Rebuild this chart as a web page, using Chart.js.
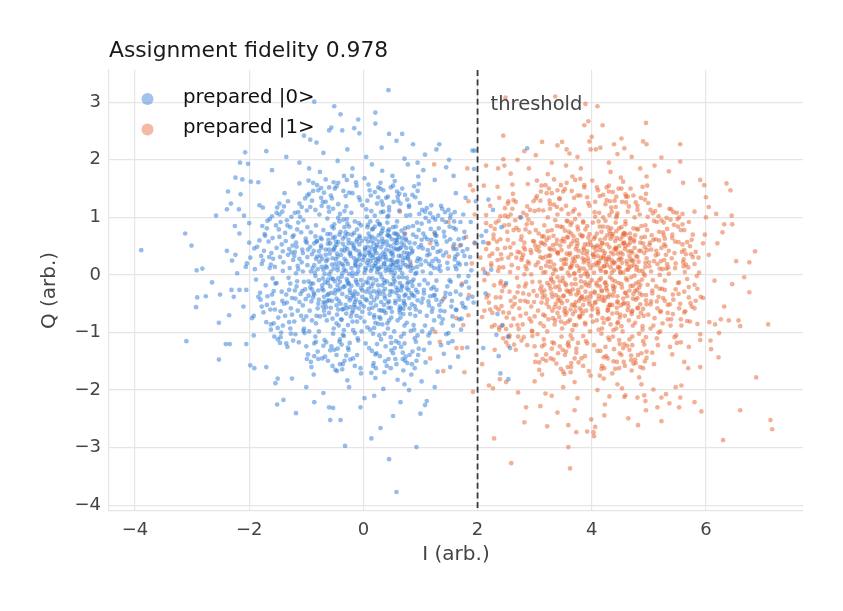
<!DOCTYPE html>
<html><head><meta charset="utf-8">
<script src="https://cdn.jsdelivr.net/npm/chart.js@4/dist/chart.umd.min.js"></script>
<style>html,body{margin:0;padding:0;background:#fff;}canvas{display:block;}</style>
</head><body>
<canvas id="c" width="843" height="611" style="width:843px;height:611px"></canvas>
<script>
const titleText = "Assignment fidelity 0.978";
const seriesNames = ["prepared |0>", "prepared |1>"];
const xAxisLabel = "I (arb.)";
const yAxisLabel = "Q (arb.)";
const thresholdLabel = "threshold";
const xTicks = [-4, -2, 0, 2, 4, 6];
const yTicks = [-4, -3, -2, -1, 0, 1, 2, 3];
const thresholdI = 2;

// prepared |0> : [I, Q] points read/
const prepared0 = [
[0.12,0.34],[-0.45,0.08],[0.67,-0.21],[-0.23,-0.56],[0.31,0.72],[-0.78,0.41],[0.05,-0.12],[0.54,0.46],[-0.36,0.63],[0.82,0.15],
[-0.61,-0.33],[0.19,-0.74],[-0.08,0.27],[0.43,-0.48],[-0.92,0.06],[0.27,0.11],[-0.15,-0.29],[0.71,0.52],[-0.52,0.81],[0.08,0.58],
[0.36,-0.09],[-0.27,0.19],[0.58,0.23],[-0.69,-0.62],[0.14,-0.38],[-0.41,-0.12],[0.89,-0.37],[-0.04,0.86],[0.48,0.05],[-0.83,0.28],
[0.23,0.49],[-0.58,0.55],[0.64,-0.66],[-0.19,-0.81],[0.02,0.04],[0.39,0.31],[-0.72,-0.18],[0.16,-0.57],[-0.33,0.42],[0.76,-0.05],
[-0.11,0.62],[0.51,-0.29],[-0.47,-0.41],[0.29,0.88],[-0.88,-0.39],[0.62,0.33],[-0.25,0.02],[0.07,-0.91],[0.94,0.24],[-0.64,0.13],
[0.18,0.16],[-0.39,-0.77],[0.46,0.67],[-0.06,-0.47],[0.73,-0.52],[-0.54,0.29],[0.33,-0.18],[-0.17,0.51],[0.57,0.84],[-0.96,-0.11],
[0.09,-0.24],[-0.31,0.74],[0.68,0.03],[-0.74,0.47],[0.26,-0.85],[-0.13,-0.09],[0.41,0.58],[-0.49,-0.26],[0.85,0.39],[-0.22,0.33],
[0.55,-0.11],[-0.67,-0.49],[0.11,0.41],[-0.02,-0.64],[0.37,0.19],[-0.86,0.17],[0.63,-0.43],[-0.29,-0.38],[0.21,0.63],[-0.44,0.57],
[0.78,0.28],[-0.09,0.13],[0.32,-0.62],[-0.57,0.06],[0.49,0.37],[-0.35,-0.59],[0.15,0.79],[-0.79,-0.27],[0.66,-0.27],[0.03,0.47],
[-0.21,-0.19],[0.44,0.09],[-0.63,0.71],[0.24,-0.31],[-0.98,0.31],[0.59,0.61],[-0.12,-0.71],[0.86,-0.19],[-0.42,0.21],[0.13,0.07],
[0.34,0.54],[-0.53,-0.07],[0.74,-0.34],[-0.28,0.89],[0.04,-0.42],[-0.71,-0.55],[0.52,0.17],[-0.05,0.36],[0.28,-0.73],[-0.38,-0.03],
[0.61,0.44],[-0.81,0.59],[0.17,-0.15],[-0.46,0.37],[0.91,0.02],[-0.16,-0.52],[0.42,-0.84],[-0.62,-0.14],[0.06,0.21],[0.72,0.71],
[-0.34,0.09],[0.22,0.27],[-0.76,-0.72],[0.47,-0.16],[-0.07,0.68],[0.65,-0.58],[-0.51,0.45],[0.35,0.39],[-0.24,-0.44],[0.81,0.56],
[-0.93,-0.22],[0.1,-0.06],[0.57,0.12],[-0.43,-0.88],[0.25,0.93],[-0.65,0.24],[0.38,-0.41],[-0.14,0.18],[0.69,0.26],[-0.3,-0.67],
[0.01,0.31],[-0.56,-0.31],[0.48,-0.57],[-0.2,0.55],[0.79,-0.12],[-0.87,0.42],[0.2,0.45],[-0.37,0.03],[0.6,-0.79],[-0.1,-0.33],
[0.3,0.02],[-0.7,0.09],[0.45,0.79],[-0.26,-0.14],[0.13,-0.49],[-0.5,0.66],[0.77,0.38],[-0.04,-0.23],[0.53,-0.01],[-0.8,-0.58],
[0.26,0.29],[-0.32,0.48],[0.66,0.48],[-0.6,-0.44],[0.11,0.66],[-0.18,-0.96],[0.87,0.12],[-0.45,0.14],[0.35,-0.29],[-0.03,0.59],
[0.5,0.26],[-0.66,0.35],[0.19,-0.92],[-0.12,0.25],[0.71,-0.45],[-0.4,-0.5],[0.04,0.12],[-0.84,-0.02],[0.42,0.69],[-0.27,0.71],
[0.64,-0.14],[-0.08,-0.58],[0.31,0.14],[-0.55,0.18],[0.92,-0.26],[-0.19,0.04],[0.17,0.35],[-0.73,0.62],[0.46,-0.35],[-0.35,-0.21],
[0.07,0.83],[-0.47,0.52],[0.58,-0.22],[-0.01,-0.17],[0.39,-0.66],[-0.62,-0.08],[0.24,0.52],[-0.91,-0.46],[0.75,0.6],[-0.23,0.39],
[1.12,0.34],[-1.24,0.51],[0.45,1.18],[-0.38,-1.21],[1.35,-0.62],[-1.05,-0.78],[0.82,1.04],[-0.71,1.27],[1.48,0.11],[-1.52,-0.14],
[0.23,-1.36],[-0.19,1.42],[1.21,-0.94],[-1.33,0.86],[0.97,-1.28],[-0.86,-1.19],[1.63,0.45],[-1.61,0.38],[0.58,-1.55],[-0.52,1.61],
[1.05,0.72],[-1.08,0.22],[0.14,1.11],[-0.09,-1.14],[1.27,0.28],[-1.19,-0.41],[0.66,-1.07],[-0.63,0.98],[1.44,-0.31],[-1.41,0.07],
[0.35,1.47],[-0.33,-1.49],[1.72,-0.18],[-1.69,-0.52],[0.91,1.35],[-0.95,1.41],[1.16,-1.18],[-1.27,-1.02],[0.02,1.68],[-0.04,-1.71],
[1.58,0.82],[-1.47,1.05],[0.74,-1.42],[-0.79,-1.46],[1.31,1.03],[-1.12,1.24],[1.83,-0.41],[-1.78,0.19],[0.51,1.72],[-0.46,-1.67],
[1.02,-0.48],[-1.01,0.63],[0.28,-1.05],[-0.21,1.08],[1.18,0.03],[-1.16,-0.11],[0.79,0.83],[-0.83,-0.84],[1.37,-0.84],[-1.36,0.59],
[0.61,1.29],[-0.58,-1.31],[1.66,0.21],[-1.57,-0.84],[0.17,-1.58],[-0.12,1.55],[1.49,-1.01],[-1.39,1.19],[0.97,1.58],[-0.91,-1.6],
[1.23,-0.21],[-1.21,0.33],[0.39,-1.24],[-0.44,1.23],[1.08,1.1],[-1.03,-1.01],[1.76,0.64],[-1.81,-0.31],[0.84,-1.73],[-0.76,1.79],
[1.29,0.53],[-1.3,-0.26],[0.07,1.29],[-0.26,-1.3],[1.54,-0.55],[-1.48,0.79],[0.48,1.52],[-0.41,-1.55],[1.89,0.08],[-1.86,0.49],
[1.11,-0.71],[-1.14,0.91],[0.63,1.12],[-0.68,-1.13],[1.42,0.67],[-1.45,-0.63],[0.29,-1.41],[-0.31,1.37],[1.68,-0.77],[-1.64,0.97],
[1.01,0.18],[-1.02,-0.25],[0.2,1.03],[-0.15,-1.01],[1.19,0.61],[-1.22,0.69],[0.72,-1.19],[-0.65,-1.17],[1.6,1.09],[-1.56,-1.07],
[0.95,-1.05],[-0.99,1.12],[1.34,0.16],[-1.34,-0.48],[0.52,-1.36],[-0.55,1.33],[1.77,0.33],[-1.73,0.71],[0.33,1.81],[-0.28,-1.83],
[1.15,0.93],[-1.18,0.03],[0.04,-1.19],[-0.02,1.21],[1.28,-0.43],[-1.26,1.01],[0.86,-1.33],[-0.88,1.46],[1.52,0.99],[-1.5,-0.92],
[1.06,-0.26],[-1.07,0.44],[0.42,1.01],[-0.36,-1.04],[1.45,0.39],[-1.43,-0.29],[0.69,-1.46],[-0.74,1.51],[1.85,-0.22],[-1.88,-0.08],
[1.36,-1.22],[-1.32,1.28],[0.13,1.38],[-0.11,-1.39],[1.63,-0.61],[-1.59,0.64],[0.55,1.63],[-0.49,-1.65],[1.09,-1.52],[-1.12,1.59],
[1.24,0.12],[-1.25,-0.69],[0.8,1.21],[-0.84,1.13],[1.71,0.52],[-1.68,-0.37],[0.37,-1.69],[-0.34,1.72],[1.56,-1.15],[-1.51,1.17],
[0.88,-0.87],[-0.92,0.74],[1.04,0.46],[-1.06,-0.53],[0.24,1.24],[-0.27,-1.26],[1.38,1.15],[-1.35,-1.19],[1.95,0.56],[-1.92,-0.71],
[1.17,-0.37],[-1.15,0.16],[0.49,-1.18],[-0.53,1.15],[1.47,0.21],[-1.46,0.31],[0.93,-1.49],[-0.97,-1.38],[1.62,0.79],[-1.69,0.81],
[1.32,0.81],[-1.28,-0.93],[0.73,1.39],[-0.69,1.43],[1.79,-0.57],[-1.75,-0.65],[0.21,-1.79],[-0.19,1.85],[1.41,-1.37],[-1.38,1.42],
[1.13,0.43],[-1.1,-0.33],[0.31,-1.12],[-0.33,1.11],[1.53,-0.12],[-1.55,0.14],[0.89,1.54],[-0.92,-1.51],[1.87,0.31],[-1.84,-0.38],
[-3.89,0.43],[-3.10,-1.15],[-2.53,-1.47],[-2.93,-0.56],[-2.91,-0.39],[-2.76,-0.37],[-2.65,-0.13],[-2.53,-0.83],[-2.41,-1.20],[-2.34,-1.20],
[-2.05,-1.20],[-1.98,-1.57],[-1.91,-1.62],[-1.51,-2.25],[-1.18,-2.40],[-0.58,-2.52],[-0.40,-2.52],[-0.32,-2.97],[-0.60,-2.30],[-0.53,-2.31],
[-0.86,-2.21],[-1.54,-1.88],[-1.50,-1.80],[0.14,-2.84],[0.45,-3.20],[0.58,-3.77],[0.93,-2.99],[0.30,-2.66],[0.52,-2.45],[1.0,-2.41],
[-1.40,-2.17],[1.08,-2.26],[1.11,-2.19],[0.65,-2.21],[0.02,-2.14],[0.19,-2.10],[0.44,3.21],[-0.86,3.01],[-0.51,2.93],[-0.40,2.79],
[0.21,2.82],[0.21,2.63],[-0.09,2.70],[-0.60,2.51],[-0.56,2.56],[-0.37,2.51],[-0.16,2.55],[-0.07,2.46],[-1.04,2.42],[-0.93,2.35],
[-0.82,2.30],[0.45,2.45],[0.58,2.33],[0.68,2.45],[0.87,2.27],[1.33,2.27],[1.28,2.18],[1.91,2.16],[-2.07,2.13],[-2.16,1.95],
[-2.02,1.93],[-2.24,1.69],[-2.12,1.66],[-2.37,1.45],[-2.32,1.24],[-2.39,1.14],[-2.58,1.03],[-3.12,0.72],[-3.01,0.51],[-2.92,0.08],
[-2.82,0.11],[-2.51,-0.34],[-2.18,1.14],[-2.09,1.03],[-1.97,1.62],[-1.84,1.61],[-1.82,1.21],[-1.76,1.17],[-2.24,0.35],[-2.30,0.25],
[-2.21,0.03],[-2.04,0.20],[-2.06,0.14],[-2.39,0.42],[-2.17,0.72],[-2.0,0.56],[-1.91,0.46],[-2.31,-0.26],[-2.17,-0.26],[-2.05,-0.26],
[-2.27,-0.38],
[2.87,2.20],[2.19,1.31],[2.27,1.13],[2.76,1.0],[2.42,0.83],[2.15,0.76],[2.07,0.68],[2.10,0.57],[2.13,0.04],[2.24,0.09],
[1.95,2.16],[1.94,1.84],[2.14,-0.32],[2.50,-0.14],[2.35,-0.68],[2.43,-0.88],[2.33,-1.04],[2.53,-1.07],[2.57,-1.27],[2.10,-1.27],
[2.40,-1.71],[2.54,-1.81],[2.37,-1.41],
[1.62,1.42],[1.75,1.05],[1.88,0.92],[1.71,-0.95],[1.82,-1.26],[1.93,-0.48],[1.66,-1.42],[1.97,1.28],[1.58,1.72],[1.45,1.87],
[1.25,1.65],[1.05,1.82],[0.78,1.92],[1.3,-1.68],[1.02,-1.85],[0.72,-1.9],[1.52,-1.6],[1.79,1.34],
[-1.35,2.05],[-1.12,1.95],[-0.7,2.12],[-0.28,2.18],[0.05,2.05],[0.32,2.21],[0.72,2.02],[1.08,2.09],[-1.6,1.82],[-0.45,1.98],
[0.15,1.92],[-0.95,1.85],[1.5,2.0],[-1.7,2.15],[0.95,1.95],
[-1.0,-1.95],[-0.7,-2.05],[-0.25,-1.95],[0.35,-1.98],[0.8,-2.0],[-1.25,-1.8],[1.25,-1.95],[-0.05,-2.3],[0.6,-1.82],[-1.7,-1.6],
[-2.0,0.9],[-1.95,-0.75],[-2.1,-0.55],[-1.98,0.3],[-2.25,0.85],[-2.35,-0.7],[-1.92,-1.05],[-2.15,1.4],
[-0.14,0.44],[0.53,0.21],[-0.71,-0.06],[0.36,-0.52],[-0.29,0.97],[0.93,0.66],[-1.06,0.38],[0.17,-1.02],[0.72,-0.88],[-0.52,-0.93],
[0.44,1.03],[-0.83,0.86],[1.07,-0.09],[-0.05,0.18],[0.27,-0.27],[-0.37,-0.33],[0.64,0.09],[-0.62,0.54],[0.09,0.72],[1.22,0.47],
[-0.94,-0.62],[0.38,0.36],[-0.17,-0.37],[0.81,-0.58],[-0.48,0.27],[0.02,-0.81],[0.59,0.93],[-1.17,-0.2],[0.24,0.05],[-0.26,0.61],
[0.96,0.29],[-0.69,-0.38],[0.13,0.24],[0.49,-0.74],[-0.41,1.06],[1.14,-0.46],[-0.89,0.12],[0.31,0.48],[-0.12,-0.13],[0.68,0.64],
[-0.57,-0.57],[0.06,1.01],[0.84,-0.32],[-1.01,0.58],[0.41,-0.11],[-0.22,-0.72],[0.55,0.55],[-0.77,0.23],[0.19,-0.44],[1.31,0.11],
[-0.33,0.28],[0.74,0.17],[-0.64,-0.79],[0.12,0.93],[0.47,0.26],[-0.45,-0.18],[0.91,-0.71],[-1.12,-0.47],[0.28,-0.61],[-0.08,0.41],
[0.62,-0.37],[-0.84,0.67],[0.34,0.81],[-0.19,-0.02],[1.01,0.52],[-0.53,0.43],[0.05,-0.29],[0.77,-0.15],[-0.72,-0.24],[0.22,0.15],
[-0.31,-0.52],[0.57,0.72],[-0.98,0.17],[0.43,-0.93],[-0.11,0.79],[0.86,0.42],[-0.6,-0.66],[0.16,0.3],[1.19,-0.24],[-0.4,0.75],
[0.69,-0.04],[-0.75,0.33],[0.26,-0.18],[-0.03,-0.98],[0.51,0.39],[-0.5,-0.11],[0.95,-0.44],[-1.23,0.26],[0.33,0.63],[-0.16,0.29],
[0.73,0.81],[-0.87,-0.31],[0.1,-0.59],[0.46,0.14],[-0.36,0.54],[1.09,0.24],[-0.68,0.02],[0.2,0.84],[-0.24,-0.26],[0.63,-0.61],
[-0.55,0.84],[0.37,-0.36],[-0.07,0.53],[0.83,0.07],[-0.93,0.49],[0.14,-0.2],[0.56,-0.49],[-0.43,-0.45],[1.25,0.74],[-0.15,0.93],
[0.4,0.44],[-0.79,-0.5],[0.66,0.33],[-0.27,-0.87],[0.03,0.35],[0.89,-0.95],[-1.04,-0.12],[0.3,-0.76],[-0.35,0.16],[0.75,0.47],
[-0.61,0.61],[0.18,0.55],[0.52,-0.16],[-0.46,-0.69],[1.16,0.36],[-0.13,-0.43],[0.6,0.7],[-0.85,0.04],[0.25,0.23],[-0.02,-0.38],
[0.79,-0.26],[-0.66,0.44],[0.35,1.1],[-0.21,0.12],[0.98,-0.17],[-0.44,-0.27],[0.11,-0.67],[0.67,0.56],[-1.09,0.74],[0.45,-0.46],
[-0.09,0.06],[0.7,-0.68],[-0.58,-0.2],[0.23,0.38],[-0.34,-0.96],[0.87,0.85],[-0.73,0.14],[0.15,0.11],[0.54,-0.98],[-0.25,0.84],
[1.04,0.06],[-0.48,0.58],[0.32,-0.04],[-0.82,-0.71],[0.61,0.24],[-0.18,-0.62],[0.42,0.91],[-0.97,0.44],[0.08,-0.14],[0.85,-0.51],
[-0.39,0.35],[0.5,0.62],[-0.63,-0.35],[0.21,-0.83],[1.2,-0.64],[-0.06,0.65],[0.71,0.39],[-0.9,-0.25],[0.29,0.27],[-0.29,-0.07],
[0.58,-0.31],[-0.7,0.78],[0.07,0.49],[0.94,0.14],[-0.47,-0.84],[0.38,-0.24],[-0.14,0.22],[0.76,-0.83],[-1.14,0.1],[0.48,0.5],
[-0.32,0.67],[0.64,-0.55],[-0.52,0.11],[0.16,-0.06],[1.12,0.62],[-0.78,-0.43],[0.27,0.69],[-0.04,-0.51],[0.82,0.23],[-0.59,0.37],
[0.36,0.2],[-0.23,-0.31],[0.9,0.55],[-0.86,0.55],[0.12,-0.95],[0.55,0.04],[-0.42,0.93],[1.06,-0.32],[-0.65,-0.56],[0.2,0.42],
[-0.1,-0.17],[0.68,-0.19],[-0.96,-0.36],[0.43,0.76],[-0.28,0.45],[0.8,-0.4],[-0.55,-0.45],[0.04,0.63],[1.28,-0.1],[-0.37,-0.6],
[0.58,0.45],[-0.75,0.65],[0.24,-0.39],[-0.12,0.02],[0.97,0.78],[-0.49,0.19],[0.33,-0.86],[-1.0,-0.72],[0.65,0.13],[-0.2,0.7],
[0.44,-0.57],[-0.67,-0.13],[0.1,0.17],[0.88,-0.08],[-0.38,-0.78],[0.52,0.83],[-0.81,0.32],[0.18,-0.28],[1.15,0.19],[-0.3,0.24],
[0.71,-0.49],[-0.58,0.71],[0.3,0.34],[-0.05,-0.74],[0.62,0.66],[-0.92,-0.15],[0.39,0.07],[-0.17,0.47],[0.92,-0.6],[-0.44,-0.06],
[0.14,0.59],[0.78,0.31],[-0.7,-0.47],[0.47,-0.28],[-0.26,-0.16],[1.02,0.89],[-0.63,0.27],[0.22,-0.53],[-0.01,0.26],[0.6,0.17],
[-0.33,0.83],[0.86,-0.35],[-1.07,-0.28],[0.35,0.58],[-0.15,-0.56],[0.53,-0.07],[-0.5,0.49],[0.08,0.87],[1.23,-0.36],[-0.8,0.1],
[1.35,0.42],[-1.29,0.12],[0.55,-1.27],[-0.61,1.18],[1.52,-0.33],[-1.42,-0.45],[0.26,1.52],[-0.18,-1.45],[1.19,1.21],[-1.23,-1.14],
[1.61,0.15],[-1.58,0.28],[0.81,-1.39],[-0.9,1.29],[1.39,-0.77],[-1.34,0.95],[0.43,1.36],[-0.47,-1.39],[1.73,-0.49],[-1.71,-0.18],
[1.26,0.69],[-1.18,0.56],[0.38,-1.5],[-0.35,1.46],[1.46,0.58],[-1.49,-0.74],[0.99,1.25],[-1.0,-1.24],[1.8,0.19],[-1.66,0.58],
[1.08,-0.88],[-1.16,0.79],[0.15,-1.32],[-0.08,1.35],[1.57,-0.88],[-1.52,0.47],[0.68,1.5],[-0.72,-1.45],[1.7,0.92],[-1.62,-0.95],
[1.33,-0.52],[-1.31,-0.05],[0.6,1.36],[-0.56,-1.24],[1.65,0.36],[-1.6,1.02],[0.9,-1.62],[-0.96,1.64],[1.43,1.09],[-1.45,-1.08],
[1.21,0.24],[-1.27,-0.58],[0.32,1.28],[-0.24,-1.18],[1.51,0.84],[-1.53,0.86],[0.7,-1.66],[-0.66,1.66],[1.84,-0.02],[-1.79,0.33],
[1.17,-1.0],[-1.2,1.08],[0.11,1.47],[-0.15,-1.58],[1.38,0.96],[-1.41,-0.88],[0.48,-1.62],[-0.44,1.6],[1.62,-0.29],[-1.63,-0.6],
[1.03,1.13],[-1.05,-0.97],[0.22,-1.62],[-0.29,1.65],[1.75,-0.55],[-1.77,0.85],[0.96,1.71],[-0.87,-1.73],[1.49,-1.18],[-1.47,1.24],
[1.28,-0.26],[-1.26,0.39],[0.53,1.27],[-0.51,-1.3],[1.59,0.53],[-1.57,-0.28],[0.77,-1.53],[-0.81,1.56],[1.91,-0.38],[-1.9,0.1],
[1.02,0.61],[-0.98,0.83],[0.71,-1.02],[-0.84,-1.07],[1.25,-0.35],[-1.3,0.45],[0.34,1.22],[-0.42,-1.16],[1.44,0.92],[-1.37,-0.71],
[0.92,-1.16],[-1.11,1.01],[0.59,1.45],[-0.62,-1.49],[1.56,-0.72],[-1.62,0.18],[0.18,-1.53],[-0.13,1.61],[1.67,0.62],[-1.58,-0.49],
[1.09,0.99],[-1.04,-0.93],[0.83,-0.97],[-0.77,1.05],[1.32,0.24],[-1.35,-0.34],[0.49,-1.31],[-0.57,1.38],[1.51,-0.09],[-1.47,0.66],
[0.99,-0.64],[-1.2,0.4],[0.26,1.35],[-0.3,-1.4],[1.41,0.75],[-1.44,-1.0],[0.77,1.31],[-0.8,-1.33],[1.7,-0.34],[-1.74,0.42],
[1.14,-1.05],[-1.08,1.18],[0.44,-1.46],[-0.5,1.5],[1.6,0.27],[-1.54,-0.15],[0.95,1.46],[-0.99,-1.46],[1.24,-0.79],[-1.28,0.83],
[1.18,0.8],[-1.15,-0.62],[0.1,-1.27],[-0.06,1.3],[1.37,-0.46],[-1.4,0.22],[0.65,1.24],[-0.7,-1.23],[1.74,0.41],[-1.7,-0.82],
[1.06,-1.3],[-1.02,1.33],[0.3,1.6],[-0.37,-1.64],[1.53,1.05],[-1.5,-1.12],[0.85,-1.55],[-0.88,1.6],[1.8,-0.12],[-1.82,0.6],
[1.27,0.58],[-1.25,-0.4],[0.57,-1.15],[-0.6,1.1],[1.47,-0.2],[-1.45,0.92],[0.2,1.44],[-0.23,-1.47],[1.36,1.2],[-1.33,-1.25],
[0.98,1.06],[-0.95,-0.98],[0.66,-1.25],[-0.73,1.2],[1.21,-0.58],[-1.24,0.66],[0.4,1.34],[-0.45,-1.28],[1.58,0.45],[-1.6,-0.34],
[1.13,-0.15],[-1.12,0.28],[0.05,1.14],[-0.1,-1.1],[1.3,0.4],[-1.28,-0.15],[0.75,1.03],[-0.78,-0.98],[1.55,-0.45],[-1.52,1.08],
[1.0,0.27],[-1.01,-0.42],[0.37,-1.02],[-0.44,0.99],[1.26,0.96],[-1.21,-0.81],[0.9,-1.1],[-0.93,1.18],[1.67,-0.02],[-1.65,0.31],
[1.11,1.16],[-1.13,-1.17],[0.52,1.55],[-0.54,-1.58],[1.45,-1.03],[-1.42,1.1],[0.14,-1.7],[-0.2,1.72],[1.77,0.75],[-1.78,-0.55],
[1.04,-0.41],[-1.06,0.06],[0.24,-1.2],[-0.3,1.19],[1.35,0.07],[-1.32,0.35],[0.69,-1.35],[-0.74,1.34],[1.52,0.62],[-1.55,-0.6],
[0.94,0.91],[-0.9,-0.79],[0.56,-1.46],[-0.6,1.52],[1.42,-0.63],[-1.43,0.53],[0.3,1.5],[-0.36,-1.55],[1.62,-0.6],[-1.64,0.12],
[1.22,1.0],[-1.19,-1.03],[0.45,1.12],[-0.41,-1.12],[1.4,0.34],[-1.39,-0.5],[0.86,1.39],[-0.86,-1.41],[1.69,0.18],[-1.72,0.68],
[1.15,-0.53],[-1.17,0.49],[0.62,-1.18],[-0.66,1.27],[1.28,0.68],[-1.3,-0.82],[0.09,1.57],[-0.05,-1.62],[1.49,1.13],[-1.46,-1.18],
[1.03,-0.98],[-1.05,0.95],[0.41,-1.58],[-0.47,1.54],[1.61,0.32],[-1.59,-0.06],[0.96,-1.39],[-0.98,1.38],[1.82,0.45],[-1.8,-0.43],
[1.19,0.16],[-1.2,-0.27],[0.31,1.09],[-0.34,-1.06],[1.33,-0.72],[-1.37,0.73],[0.73,-1.49],[-0.79,1.47],[1.59,0.93],[-1.62,-0.86],
[0.97,0.48],[-0.99,0.56],[0.48,-1.08],[-0.53,-1.02],[1.17,1.07],[-1.14,1.09],[0.63,1.41],[-0.67,-1.42],[1.72,-0.76],[-1.76,0.25],
[1.08,0.66],[-1.09,-0.71],[0.21,-1.38],[-0.25,1.43],[1.43,-0.38],[-1.41,0.41],[0.8,1.18],[-0.83,-1.16],[1.63,0.1],[-1.68,0.94],
[0.27,0.58],[-0.41,-0.24],[0.69,0.2],[-0.16,0.73],[0.5,-0.64],[-0.66,0.15],[0.12,-0.31],[0.83,0.47],[-0.29,-0.58],[0.35,0.31],
[-0.53,0.64],[0.76,-0.23],[0.04,0.09],[-0.86,-0.34],[0.44,0.69],[-0.11,-0.81],[0.62,-0.04],[-0.38,0.43],[0.21,0.2],[0.9,-0.54],
[-0.74,0.51],[0.31,-0.47],[-0.07,0.34],[0.57,0.61],[-0.47,-0.53],[0.15,0.66],[0.72,-0.36],[-0.6,0.01],[0.39,0.13],[-0.22,-0.4],
[0.8,0.36],[-0.35,0.96],[0.01,-0.55],[0.46,0.42],[-0.78,-0.09],[0.65,-0.74],[-0.14,0.16],[0.28,0.88],[-0.5,-0.32],[0.93,0.04],
[-0.26,0.55],[0.56,-0.45],[-0.68,-0.7],[0.1,0.38],[0.37,-0.14],[-0.42,0.7],[0.74,0.63],[-0.02,-0.27],[0.49,0.18],[-0.9,0.36],
[0.19,-0.7],[-0.31,0.07],[0.64,0.46],[-0.56,-0.06],[0.33,0.76],[0.06,-0.44],[-0.72,0.28],[0.85,-0.12],[-0.18,-0.34],[0.42,0.52],
[-0.45,0.32],[0.7,-0.59],[-0.08,0.9],[0.23,-0.09],[-0.63,-0.45],[0.52,0.33],[-0.2,-0.66],[0.87,0.7],[-0.37,0.19],[0.14,0.48],
[0.6,-0.26],[-0.82,0.58],[0.29,-0.33],[-0.12,0.58],[0.78,0.14],[-0.54,-0.76],[0.08,0.26],[0.45,-0.79],[-0.33,-0.2],[0.67,0.77],
[-0.6,0.44],[0.25,0.1],[-0.04,-0.09],[0.54,0.72],[-0.88,-0.15],[0.36,-0.62],[-0.24,0.37],[0.73,0.3],[-0.44,-0.6],[0.17,0.8],
[0.95,-0.3],[-0.7,-0.27],[0.4,0.26],[-0.15,-0.47],[0.59,0.55],[-0.51,0.88],[0.03,0.43],[0.82,-0.68],[-0.28,-0.11],[0.5,0.09]
];

// prepared |1> : [I, Q] points read/
const prepared1 = [
[4.21,0.33],[3.62,0.12],[4.55,-0.41],[3.84,-0.67],[4.37,0.71],[3.28,0.44],[4.09,-0.18],[4.68,0.27],[3.51,-0.36],[3.97,0.58],
[4.82,-0.12],[3.43,-0.73],[4.14,0.84],[3.71,0.31],[4.46,-0.82],[3.19,0.05],[4.03,0.17],[4.74,0.61],[3.57,0.66],[3.89,-0.29],
[4.29,-0.56],[3.36,-0.21],[4.61,0.09],[3.76,0.79],[4.18,-0.93],[3.12,-0.48],[4.92,0.38],[3.93,0.01],[4.42,0.47],[3.65,-0.52],
[4.07,0.42],[3.47,0.26],[4.71,-0.62],[3.81,-0.11],[4.33,0.13],[3.24,-0.77],[4.57,0.73],[3.99,-0.71],[4.25,-0.23],[3.58,0.04],
[4.88,-0.35],[3.33,0.68],[4.12,-0.42],[3.69,-0.87],[4.49,0.29],[3.06,0.22],[4.02,0.91],[4.79,0.14],[3.54,-0.15],[3.86,0.47],
[4.36,-0.08],[3.41,-0.44],[4.64,0.52],[3.74,0.16],[4.23,0.63],[3.17,-0.27],[4.96,-0.51],[3.95,-0.46],[4.44,-0.66],[3.63,0.87],
[4.16,0.07],[3.39,0.85],[4.53,-0.22],[3.79,-0.58],[4.31,-0.34],[3.27,0.34],[4.75,-0.01],[3.91,0.36],[4.59,0.88],[3.52,-0.63],
[4.05,-0.31],[3.45,0.51],[4.69,0.41],[3.83,0.67],[4.27,-0.77],[3.09,-0.12],[4.85,0.56],[4.01,-0.54],[4.39,0.22],[3.61,-0.01],
[4.19,0.55],[3.31,-0.62],[4.51,-0.53],[3.73,-0.34],[4.34,0.39],[3.21,0.61],[4.91,0.02],[3.96,0.71],[4.47,-0.14],[3.66,0.21],
[4.11,-0.64],[3.49,-0.05],[4.62,0.19],[3.77,0.42],[4.24,0.94],[3.14,0.29],[4.77,-0.43],[3.88,-0.83],[4.41,0.59],[3.56,0.37],
[4.27,0.17],[3.37,0.08],[4.58,-0.71],[3.72,-0.47],[4.13,-0.09],[3.25,-0.56],[4.81,0.79],[3.94,0.24],[4.45,-0.37],[3.68,0.59],
[4.06,0.66],[3.44,-0.26],[4.66,-0.27],[3.85,0.91],[4.32,-0.52],[3.11,0.56],[4.94,0.21],[4.0,-0.09],[4.48,0.81],[3.59,-0.81],
[4.22,-0.45],[3.34,0.18],[4.54,0.36],[3.78,0.07],[4.38,-0.96],[3.18,-0.36],[4.72,-0.19],[3.92,-0.39],[4.26,0.28],[3.64,0.72],
[4.15,0.49],[3.48,-0.49],[4.67,0.63],[3.82,-0.21],[4.35,0.04],[3.23,0.76],[4.86,-0.66],[3.98,0.12],[4.43,0.44],[3.55,0.19],
[4.09,-0.79],[3.4,0.39],[4.6,-0.06],[3.75,0.55],[4.2,0.29],[3.29,-0.09],[4.78,0.33],[3.9,-0.62],[4.52,-0.89],[3.62,-0.28],
[4.31,0.76],[3.5,0.63],[4.73,-0.33],[3.8,-0.41],[4.17,-0.27],[3.08,0.41],[4.89,0.07],[4.04,0.31],[4.4,-0.21],[3.67,-0.68],
[4.24,-0.13],[3.35,-0.86],[4.56,0.55],[3.7,0.03],[4.1,0.51],[3.2,0.16],[4.83,-0.22],[3.95,-0.19],[4.47,0.12],[3.6,0.49],
[4.02,0.36],[3.46,0.11],[4.63,-0.49],[3.87,0.26],[4.28,-0.62],[3.15,-0.69],[4.93,0.48],[3.99,0.52],[4.36,0.67],[3.53,0.77],
[4.18,-0.38],[3.32,0.52],[4.5,0.05],[3.79,-0.74],[4.3,0.31],[3.26,-0.18],[4.76,0.69],[3.93,-0.03],[4.45,-0.48],[3.65,-0.16],
[4.12,0.21],[3.42,-0.39],[4.7,0.24],[3.84,0.38],[4.39,-0.29],[3.13,0.67],[4.8,-0.57],[4.06,-0.47],[4.55,0.71],[3.71,-0.55],
[5.12,0.34],[2.81,0.48],[4.42,1.18],[3.6,-1.24],[5.33,-0.66],[2.94,-0.81],[4.84,1.05],[3.27,1.23],[5.46,0.12],[2.49,-0.17],
[4.25,-1.41],[3.8,1.38],[5.2,-0.98],[2.68,0.82],[4.96,-1.33],[3.13,-1.24],[5.62,0.43],[2.41,0.36],[4.58,-1.58],[3.46,1.56],
[5.05,0.69],[2.9,0.2],[4.13,1.08],[3.92,-1.19],[5.27,0.26],[2.83,-0.45],[4.66,-1.12],[3.36,0.95],[5.42,-0.34],[2.57,0.05],
[4.37,1.44],[3.64,-1.53],[5.7,-0.21],[2.32,-0.56],[4.93,1.31],[3.04,1.37],[5.16,-1.22],[2.71,-1.07],[4.01,1.64],[3.98,-1.75],
[5.56,0.78],[2.53,1.01],[4.76,-1.47],[3.2,-1.49],[5.31,0.99],[2.87,1.19],[5.82,-0.45],[2.24,0.16],[4.51,1.69],[3.52,-1.72],
[5.03,-0.51],[2.97,0.59],[4.29,-1.09],[3.78,1.05],[5.19,0.0],[2.85,-0.15],[4.79,0.8],[3.16,-0.89],[5.38,-0.88],[2.63,0.55],
[4.6,1.26],[3.41,-1.36],[5.65,0.18],[2.44,-0.87],[4.17,-1.63],[3.87,1.52],[5.48,-1.05],[2.61,1.15],[4.97,1.55],[3.08,-1.65],
[5.23,-0.24],[2.78,0.3],[4.39,-1.29],[3.55,1.2],[5.07,1.07],[2.96,-1.06],[5.75,0.61],[2.19,-0.35],[4.83,-1.78],[3.23,1.75],
[5.29,0.5],[2.7,-0.3],[4.06,1.27],[3.73,-1.35],[5.53,-0.58],[2.52,0.75],[4.47,1.5],[3.58,-1.6],[5.88,0.04],[2.15,0.45],
[5.1,-0.75],[2.86,0.88],[4.63,1.1],[3.31,-1.17],[5.41,0.64],[2.55,-0.66],[4.28,-1.45],[3.69,1.34],[5.67,-0.8],[2.37,0.94],
[5.01,0.15],[2.98,-0.28],[4.2,1.0],[3.85,-1.06],[5.18,0.6],[2.77,0.67],[4.71,-1.22],[3.34,-1.19],[5.59,1.06],[2.45,-1.1],
[4.95,-1.08],[3.0,1.11],[5.34,0.13],[2.65,-0.5],[4.52,-1.39],[3.44,1.32],[5.77,0.31],[2.28,0.7],[4.33,1.79],[3.7,-1.86],
[5.14,0.92],[2.82,0.01],[4.04,-1.22],[3.96,1.2],[5.28,-0.45],[2.74,1.0],[4.87,-1.36],[3.11,1.45],[5.5,0.97],[2.5,-0.94],
[5.06,-0.27],[2.93,0.43],[4.43,1.0],[3.63,-1.05],[5.45,0.38],[2.56,-0.29],[4.69,-1.48],[3.25,1.5],[5.85,-0.24],[2.12,-0.09],
[5.37,-1.25],[2.67,1.27],[4.14,1.37],[3.88,-1.41],[5.64,-0.63],[2.4,0.62],[4.55,1.62],[3.5,-1.68],[5.09,-1.55],[2.88,1.58],
[5.24,0.1],[2.75,-0.71],[4.8,1.2],[3.15,1.12],[5.72,0.5],[2.32,-0.39],[4.36,-1.71],[3.66,1.71],[5.56,-1.17],[2.48,1.16],
[4.89,-0.89],[3.07,0.72],[5.04,0.44],[2.94,-0.55],[4.24,1.23],[3.73,-1.28],[5.39,1.14],[2.64,-1.21],[5.95,0.55],[2.08,-0.73],
[5.17,-0.38],[2.84,0.15],[4.49,-1.2],[3.47,1.14],[5.47,0.2],[2.54,0.3],[4.93,-1.5],[3.03,-1.39],[5.62,0.78],[2.3,0.8],
[5.32,0.8],[2.72,-0.94],[4.73,1.38],[3.3,1.42],[5.8,-0.58],[2.26,-0.66],[4.21,-1.8],[3.81,1.85],[5.41,-1.38],[2.62,1.41],
[5.13,0.42],[2.9,-0.34],[4.31,-1.13],[3.67,1.1],[5.53,-0.13],[2.45,0.13],[4.89,1.53],[3.08,-1.52],[5.87,0.3],[2.16,-0.39],
[2.49,3.08],[3.36,3.10],[3.89,2.97],[4.10,2.93],[3.94,2.67],[3.87,2.60],[4.19,2.60],[4.95,2.64],[2.45,2.42],[3.13,2.31],
[3.40,2.25],[3.48,2.31],[3.56,2.18],[3.61,2.11],[3.96,2.32],[3.98,2.18],[4.07,2.18],[4.15,2.21],[4.39,2.27],[4.52,2.37],
[4.57,2.20],[4.90,2.32],[4.96,2.27],[5.55,2.27],[5.55,1.97],[5.22,2.04],[6.36,1.59],[6.43,1.47],[5.90,1.65],[5.97,1.56],
[6.05,1.18],[6.18,1.06],[6.45,1.03],[6.46,0.88],[6.29,0.74],[6.32,0.88],[6.86,0.41],[6.76,0.22],[6.53,0.24],[6.67,-0.04],
[2.82,2.15],[3.02,2.08],[2.45,2.01],[2.15,1.90],[2.36,1.85],[2.47,1.90],[2.58,1.76],[2.61,1.57],[2.35,1.53],[2.54,1.28],
[2.63,1.30],[2.38,1.34],[2.15,1.04],[2.20,0.55],[2.15,0.90],
[2.59,-3.27],[2.29,-2.84],[2.82,-2.56],[3.22,-2.63],[3.59,-2.99],[3.62,-3.36],[3.10,-2.28],[3.40,-2.39],[3.59,-2.61],[3.73,-2.73],
[3.92,-2.72],[4.03,-2.73],[4.04,-2.80],[4.06,-2.64],[3.99,-2.51],[4.22,-2.44],[4.64,-2.49],[4.81,-2.61],[5.22,-2.54],[4.95,-2.35],
[5.15,-2.30],[5.53,-2.30],[5.92,-2.37],[5.80,-2.21],[6.30,-2.87],[6.60,-2.35],[7.13,-2.52],[7.16,-2.68],[6.88,-1.78],[7.09,-0.86],
[6.76,-0.30],[6.46,-0.16],[6.22,-1.43],[6.09,-1.29],[6.32,-0.55],[6.40,-0.79],[6.57,-0.79],[6.60,-0.89],[6.06,-0.82],[6.16,-0.86],
[6.26,-0.77],[6.23,-1.01],[6.08,-1.14],[5.90,-1.03],[5.90,-1.13],[5.69,-1.62],[5.62,-1.51],[5.57,-1.92],[5.47,-1.95],[5.55,-2.13],
[5.30,-2.07],[5.22,-2.13],[5.36,-2.23],[3.19,-2.06],[2.71,-2.04],[2.20,-1.92],[2.27,-1.97],[2.39,-1.81],[2.50,-1.86],[3.75,-2.14],
[3.70,-2.35],[4.23,-2.25],[4.31,-2.11],[4.53,-1.97],[4.59,-2.09],[4.57,-2.12],[4.80,-2.13],[4.92,-2.09],[4.94,-2.19],[4.87,-1.90],
[5.08,-1.99],
[1.24,1.92],[1.82,1.85],[1.92,1.47],[1.87,1.56],[1.84,1.28],[0.64,1.10],[0.73,0.72],[1.25,0.72],[1.49,0.92],[1.80,0.66],
[1.57,0.49],[1.69,0.51],[1.95,0.55],[0.83,0.18],[1.50,0.32],[1.17,0.55],[1.40,-0.42],[1.63,-0.75],[1.75,-0.87],[1.84,-0.70],
[1.17,-1.45],[1.34,-1.16],[1.40,-1.67],[1.77,-1.69],[1.92,-2.03],[1.63,-1.27],[1.73,-1.27],[1.26,-0.99],[1.73,-0.15],[1.9,0.2],
[1.85,-0.35],[1.95,1.05],
[2.05,0.3],[2.12,-0.62],[2.22,1.2],[2.3,-1.3],[2.08,-1.55],[2.18,0.02],[2.25,-0.9],[2.35,0.45],[2.11,1.55],[2.4,-0.15],
[3.3,1.95],[3.75,2.05],[4.3,1.95],[4.7,2.05],[5.1,1.9],[2.9,1.85],[4.0,2.4],[4.85,1.85],[3.55,1.9],[5.35,1.8],
[2.7,2.0],[4.45,2.1],[5.6,1.6],[6.0,1.35],[5.8,1.1],
[3.5,-1.95],[4.1,-2.0],[4.45,-1.9],[3.0,-1.85],[2.85,-2.3],[3.3,-2.1],[5.7,-1.25],[5.95,-0.4],[6.05,0.35],[6.15,-0.1],
[5.98,0.7],[6.2,0.55],[5.85,-0.85],[6.0,1.0],[5.9,-1.6],
[3.86,0.44],[4.53,0.21],[3.29,-0.06],[4.36,-0.52],[3.71,0.97],[4.93,0.66],[2.94,0.38],[4.17,-1.02],[4.72,-0.88],[3.48,-0.93],
[4.44,1.03],[3.17,0.86],[5.07,-0.09],[3.95,0.18],[4.27,-0.27],[3.63,-0.33],[4.64,0.09],[3.38,0.54],[4.09,0.72],[5.22,0.47],
[3.06,-0.62],[4.38,0.36],[3.83,-0.37],[4.81,-0.58],[3.52,0.27],[4.02,-0.81],[4.59,0.93],[2.83,-0.2],[4.24,0.05],[3.74,0.61],
[4.96,0.29],[3.31,-0.38],[4.13,0.24],[4.49,-0.74],[3.59,1.06],[5.14,-0.46],[3.11,0.12],[4.31,0.48],[3.88,-0.13],[4.68,0.64],
[3.43,-0.57],[4.06,1.01],[4.84,-0.32],[2.99,0.58],[4.41,-0.11],[3.78,-0.72],[4.55,0.55],[3.23,0.23],[4.19,-0.44],[5.31,0.11],
[3.67,0.28],[4.74,0.17],[3.36,-0.79],[4.12,0.93],[4.47,0.26],[3.55,-0.18],[4.91,-0.71],[2.88,-0.47],[4.28,-0.61],[3.92,0.41],
[4.62,-0.37],[3.16,0.67],[4.34,0.81],[3.81,-0.02],[5.01,0.52],[3.47,0.43],[4.05,-0.29],[4.77,-0.15],[3.28,-0.24],[4.22,0.15],
[3.69,-0.52],[4.57,0.72],[3.02,0.17],[4.43,-0.93],[3.89,0.79],[4.86,0.42],[3.4,-0.66],[4.16,0.3],[5.19,-0.24],[3.6,0.75],
[4.69,-0.04],[3.25,0.33],[4.26,-0.18],[3.97,-0.98],[4.51,0.39],[3.5,-0.11],[4.95,-0.44],[2.77,0.26],[4.33,0.63],[3.84,0.29],
[4.73,0.81],[3.13,-0.31],[4.1,-0.59],[4.46,0.14],[3.64,0.54],[5.09,0.24],[3.32,0.02],[4.2,0.84],[3.76,-0.26],[4.63,-0.61],
[3.45,0.84],[4.37,-0.36],[3.93,0.53],[4.83,0.07],[3.07,0.49],[4.14,-0.2],[4.56,-0.49],[3.57,-0.45],[5.25,0.74],[3.85,0.93],
[4.4,0.44],[3.21,-0.5],[4.66,0.33],[3.73,-0.87],[4.03,0.35],[4.89,-0.95],[2.96,-0.12],[4.3,-0.76],[3.65,0.16],[4.75,0.47],
[3.39,0.61],[4.18,0.55],[4.52,-0.16],[3.54,-0.69],[5.16,0.36],[3.87,-0.43],[4.6,0.7],[3.15,0.04],[4.25,0.23],[3.98,-0.38],
[4.79,-0.26],[3.34,0.44],[4.35,1.1],[3.79,0.12],[4.98,-0.17],[3.56,-0.27],[4.11,-0.67],[4.67,0.56],[2.91,0.74],[4.45,-0.46],
[3.91,0.06],[4.7,-0.68],[3.42,-0.2],[4.23,0.38],[3.66,-0.96],[4.87,0.85],[3.27,0.14],[4.15,0.11],[4.54,-0.98],[3.75,0.84],
[5.04,0.06],[3.52,0.58],[4.32,-0.04],[3.18,-0.71],[4.61,0.24],[3.82,-0.62],[4.42,0.91],[3.03,0.44],[4.08,-0.14],[4.85,-0.51],
[3.61,0.35],[4.5,0.62],[3.37,-0.35],[4.21,-0.83],[5.2,-0.64],[3.94,0.65],[4.71,0.39],[3.1,-0.25],[4.29,0.27],[3.71,-0.07],
[4.58,-0.31],[3.3,0.78],[4.07,0.49],[4.94,0.14],[3.53,-0.84],[4.38,-0.24],[3.86,0.22],[4.76,-0.83],[2.86,0.1],[4.48,0.5],
[3.68,0.67],[4.64,-0.55],[3.48,0.11],[4.16,-0.06],[5.12,0.62],[3.22,-0.43],[4.27,0.69],[3.96,-0.51],[4.82,0.23],[3.41,0.37],
[4.36,0.2],[3.77,-0.31],[4.9,0.55],[3.14,0.55],[4.12,-0.95],[4.55,0.04],[3.58,0.93],[5.06,-0.32],[3.35,-0.56],[4.2,0.42],
[3.9,-0.17],[4.68,-0.19],[3.04,-0.36],[4.43,0.76],[3.72,0.45],[4.8,-0.4],[3.45,-0.45],[4.04,0.63],[5.28,-0.1],[3.63,-0.6],
[4.58,0.45],[3.25,0.65],[4.24,-0.39],[3.88,0.02],[4.97,0.78],[3.51,0.19],[4.33,-0.86],[3.0,-0.72],[4.65,0.13],[3.8,0.7],
[4.44,-0.57],[3.33,-0.13],[4.1,0.17],[4.88,-0.08],[3.62,-0.78],[4.52,0.83],[3.19,0.32],[4.18,-0.28],[5.15,0.19],[3.7,0.24],
[5.35,0.42],[2.71,0.12],[4.55,-1.27],[3.39,1.18],[5.52,-0.33],[2.58,-0.45],[4.26,1.52],[3.82,-1.45],[5.19,1.21],[2.77,-1.14],
[5.61,0.15],[2.42,0.28],[4.81,-1.39],[3.1,1.29],[5.39,-0.77],[2.66,0.95],[4.43,1.36],[3.53,-1.39],[5.73,-0.49],[2.29,-0.18],
[5.26,0.69],[2.82,0.56],[4.38,-1.5],[3.65,1.46],[5.46,0.58],[2.51,-0.74],[4.99,1.25],[3.0,-1.24],[5.8,0.19],[2.34,0.58],
[5.08,-0.88],[2.84,0.79],[4.15,-1.32],[3.92,1.35],[5.57,-0.88],[2.48,0.47],[4.68,1.5],[3.28,-1.45],[5.7,0.92],[2.38,-0.95],
[5.33,-0.52],[2.69,-0.05],[4.6,1.36],[3.44,-1.24],[5.65,0.36],[2.4,1.02],[4.9,-1.62],[3.04,1.64],[5.43,1.09],[2.55,-1.08],
[5.21,0.24],[2.73,-0.58],[4.32,1.28],[3.76,-1.18],[5.51,0.84],[2.47,0.86],[4.7,-1.66],[3.34,1.66],[5.84,-0.02],[2.21,0.33],
[5.17,-1.0],[2.8,1.08],[4.11,1.47],[3.85,-1.58],[5.38,0.96],[2.59,-0.88],[4.48,-1.62],[3.56,1.6],[5.62,-0.29],[2.37,-0.6],
[5.03,1.13],[2.95,-0.97],[4.22,-1.62],[3.71,1.65],[5.75,-0.55],[2.23,0.85],[4.96,1.71],[3.13,-1.73],[5.49,-1.18],[2.53,1.24],
[5.28,-0.26],[2.74,0.39],[4.53,1.27],[3.49,-1.3],[5.59,0.53],[2.43,-0.28],[4.77,-1.53],[3.19,1.56],[5.91,-0.38],[2.1,0.1],
[5.02,0.56],[3.02,0.78],[4.71,-1.07],[3.16,-1.12],[5.25,-0.4],[2.7,0.4],[4.34,1.17],[3.58,-1.21],[5.44,0.87],[2.63,-0.76],
[4.92,-1.21],[2.89,0.96],[4.59,1.4],[3.38,-1.54],[5.56,-0.77],[2.38,0.13],[4.18,-1.58],[3.87,1.56],[5.67,0.57],[2.42,-0.54],
[5.09,0.94],[2.96,-0.98],[4.83,-1.02],[3.23,1.0],[5.32,0.19],[2.65,-0.39],[4.49,-1.36],[3.43,1.33],[5.51,-0.14],[2.53,0.61],
[4.99,-0.69],[2.8,0.35],[4.26,1.3],[3.7,-1.45],[5.41,0.7],[2.56,-1.05],[4.77,1.26],[3.2,-1.38],[5.7,-0.39],[2.26,0.37],
[5.14,-1.1],[2.92,1.13],[4.44,-1.51],[3.5,1.45],[5.6,0.22],[2.46,-0.2],[4.95,1.41],[3.01,-1.51],[5.24,-0.84],[2.72,0.78],
[5.18,0.75],[2.85,-0.67],[4.1,-1.32],[3.94,1.25],[5.37,-0.51],[2.6,0.17],[4.65,1.19],[3.3,-1.28],[5.74,0.36],[2.3,-0.87],
[5.06,-1.35],[2.98,1.28],[4.3,1.55],[3.63,-1.69],[5.53,1.0],[2.5,-1.17],[4.85,-1.6],[3.12,1.55],[5.8,-0.17],[2.18,0.55],
[5.27,0.53],[2.75,-0.45],[4.57,-1.2],[3.4,1.05],[5.47,-0.25],[2.55,0.87],[4.2,1.39],[3.77,-1.52],[5.36,1.15],[2.67,-1.3],
[4.98,1.01],[3.05,-1.03],[4.66,-1.3],[3.27,1.15],[5.21,-0.63],[2.76,0.61],[4.4,1.29],[3.55,-1.33],[5.58,0.4],[2.4,-0.39],
[5.13,-0.2],[2.88,0.23],[4.05,1.09],[3.9,-1.15],[5.3,0.35],[2.72,-0.2],[4.75,1.0],[3.22,-0.98],[5.55,-0.5],[2.48,1.03],
[5.0,0.22],[2.99,-0.47],[4.37,-1.07],[3.56,0.94],[5.26,0.91],[2.79,-0.86],[4.9,-1.15],[3.07,1.13],[5.67,-0.07],[2.35,0.26],
[5.11,1.11],[2.87,-1.22],[4.52,1.5],[3.46,-1.63],[5.45,-1.08],[2.58,1.05],[4.14,-1.75],[3.8,1.67],[5.77,0.7],[2.22,-0.6],
[5.04,-0.46],[2.94,0.01],[4.24,-1.25],[3.7,1.14],[5.35,0.02],[2.68,0.3],[4.69,-1.4],[3.26,1.29],[5.52,0.57],[2.45,-0.65],
[4.94,0.86],[3.1,-0.84],[4.56,-1.51],[3.4,1.47],[5.42,-0.68],[2.57,0.48],[4.3,1.45],[3.64,-1.6],[5.62,-0.65],[2.36,0.07],
[5.22,0.95],[2.81,-1.08],[4.45,1.07],[3.59,-1.17],[5.4,0.29],[2.61,-0.55],[4.86,1.34],[3.14,-1.46],[5.69,0.13],[2.28,0.63],
[5.15,-0.58],[2.83,0.44],[4.62,-1.23],[3.34,1.22],[5.28,0.63],[2.7,-0.87],[4.09,1.52],[3.95,-1.67],[5.49,1.08],[2.54,-1.23],
[5.03,-0.93],[2.95,0.9],[4.41,-1.63],[3.53,1.49],[5.61,0.27],[2.41,-0.11],[4.96,-1.44],[3.02,1.33],[5.82,0.4],[2.2,-0.48],
[5.19,0.11],[2.8,-0.32],[4.31,1.04],[3.66,-1.11],[5.33,-0.77],[2.63,0.78],[4.73,-1.54],[3.21,1.42],[5.59,0.88],[2.38,-0.91],
[4.97,0.43],[3.01,0.51],[4.48,-1.13],[3.47,-1.07],[5.17,1.02],[2.86,1.04],[4.63,1.36],[3.33,-1.47],[5.72,-0.81],[2.24,0.2],
[5.08,0.61],[2.91,-0.76],[4.21,-1.43],[3.75,1.38],[5.43,-0.43],[2.59,0.36],[4.8,1.13],[3.17,-1.21],[5.63,0.05],[2.32,0.91],
[4.27,0.53],[3.59,-0.29],[4.69,0.15],[3.84,0.68],[4.5,-0.69],[3.34,0.1],[4.12,-0.36],[4.83,0.42],[3.71,-0.63],[4.35,0.26],
[3.47,0.59],[4.76,-0.28],[4.04,0.04],[3.14,-0.39],[4.44,0.64],[3.89,-0.86],[4.62,-0.09],[3.62,0.38],[4.21,0.15],[4.9,-0.59],
[3.26,0.46],[4.31,-0.52],[3.93,0.29],[4.57,0.56],[3.53,-0.58],[4.15,0.61],[4.72,-0.41],[3.4,-0.04],[4.39,0.08],[3.78,-0.45],
[4.8,0.31],[3.65,0.91],[4.01,-0.6],[4.46,0.37],[3.22,-0.14],[4.65,-0.79],[3.86,0.11],[4.28,0.83],[3.5,-0.37],[4.93,-0.01],
[3.74,0.5],[4.56,-0.5],[3.32,-0.75],[4.1,0.33],[4.37,-0.19],[3.58,0.65],[4.74,0.58],[3.98,-0.32],[4.49,0.13],[3.1,0.31],
[4.19,-0.75],[3.69,0.02],[4.64,0.41],[3.44,-0.11],[4.33,0.71],[4.06,-0.49],[3.28,0.23],[4.85,-0.17],[3.82,-0.39],[4.42,0.47],
[3.55,0.27],[4.7,-0.64],[3.92,0.85],[4.23,-0.14],[3.37,-0.5],[4.52,0.28],[3.8,-0.71],[4.87,0.65],[3.63,0.14],[4.14,0.43],
[4.6,-0.31],[3.18,0.53],[4.29,-0.38],[3.88,0.53],[4.78,0.09],[3.46,-0.81],[4.08,0.21],[4.45,-0.84],[3.67,-0.25],[4.67,0.72],
[3.4,0.39],[4.25,0.05],[3.96,-0.14],[4.54,0.67],[3.12,-0.2],[4.36,-0.67],[3.76,0.32],[4.73,0.25],[3.56,-0.65],[4.17,0.75],
[4.95,-0.35],[3.3,-0.32],[4.4,0.21],[3.85,-0.52],[4.59,0.5],[3.49,0.83],[4.03,0.48],[4.82,-0.73],[3.72,-0.16],[4.5,0.04]
];

const FONT = "'DejaVu Sans', 'Liberation Sans', sans-serif";
const blueDot = "rgba(44,122,214,0.5)";
const orangeDot = "rgba(230,100,48,0.5)";
const blueLegend = "rgba(44,122,214,0.45)";
const orangeLegend = "rgba(230,100,48,0.45)";
const fmt = v => (v < 0 ? "\u2212" : "") + Math.abs(v);

const decorations = {
  id: "decorations",
  afterDatasetsDraw(chart) {
    const ctx = chart.ctx, a = chart.chartArea;
    const xs = chart.scales.x;
    const tx = xs.getPixelForValue(thresholdI);
    ctx.save();
    ctx.strokeStyle = "#3a3a3a";
    ctx.lineWidth = 1.8;
    ctx.setLineDash([6, 3.6]);
    ctx.beginPath();
    ctx.moveTo(tx, a.top);
    ctx.lineTo(tx, a.bottom);
    ctx.stroke();
    ctx.setLineDash([]);
    ctx.fillStyle = "#444";
    ctx.font = "19.5px " + FONT;
    ctx.textAlign = "left";
    ctx.textBaseline = "middle";
    ctx.fillText(thresholdLabel, tx + 13, a.top + 35);
    const items = [[seriesNames[0], blueLegend], [seriesNames[1], orangeLegend]];
    ctx.font = "19.8px " + FONT;
    items.forEach((it, i) => {
      const cy = a.top + 29 + i * 30.5;
      ctx.fillStyle = it[1];
      ctx.beginPath();
      ctx.arc(a.left + 38.5, cy, 6, 0, Math.PI * 2);
      ctx.fill();
      ctx.fillStyle = "#111";
      ctx.fillText(it[0], a.left + 74, cy - 1.5);
    });
    ctx.restore();
  },
  afterDraw(chart) {
    const ctx = chart.ctx, a = chart.chartArea;
    ctx.save();
    ctx.fillStyle = "#1a1a1a";
    ctx.font = "21.8px " + FONT;
    ctx.textAlign = "left";
    ctx.textBaseline = "alphabetic";
    ctx.fillText(titleText, a.left, 57);
    ctx.fillStyle = "#444";
    ctx.font = "20px " + FONT;
    ctx.textAlign = "center";
    ctx.textBaseline = "middle";
    ctx.fillText(xAxisLabel, (a.left + a.right) / 2, 555);
    ctx.translate(50, (a.top + a.bottom) / 2);
    ctx.rotate(-Math.PI / 2);
    ctx.fillText(yAxisLabel, 0, 0);
    ctx.restore();
  }
};

const toPts = arr => arr.map(p => ({ x: p[0], y: p[1] }));

new Chart(document.getElementById("c"), {
  type: "scatter",
  data: {
    datasets: [
      { label: seriesNames[0], data: toPts(prepared0), backgroundColor: blueDot, borderWidth: 0, pointRadius: 2.35, pointHoverRadius: 2.35 },
      { label: seriesNames[1], data: toPts(prepared1), backgroundColor: orangeDot, borderWidth: 0, pointRadius: 2.35, pointHoverRadius: 2.35 }
    ]
  },
  options: {
    responsive: false,
    devicePixelRatio: 1,
    animation: false,
    events: [],
    layout: { padding: { left: 0, right: 40, top: 70, bottom: 0 } },
    plugins: { legend: { display: false }, tooltip: { enabled: false }, title: { display: false } },
    scales: {
      x: {
        type: "linear", min: -4.455, max: 7.70,
        afterBuildTicks: s => { s.ticks = xTicks.map(v => ({ value: v })); },
        afterFit: s => { s.height = 100; },
        grid: { color: "#e5e5e5", lineWidth: 1.2, drawTicks: false },
        border: { display: true, color: "#e5e5e5", width: 1.2 },
        ticks: { padding: 9, color: "#444", font: { family: FONT, size: 18 }, callback: v => fmt(v), maxRotation: 0 }
      },
      y: {
        type: "linear", min: -4.10, max: 3.56,
        afterBuildTicks: s => { s.ticks = yTicks.map(v => ({ value: v })); },
        afterFit: s => { s.width = 109; },
        grid: { color: "#e5e5e5", lineWidth: 1.2, drawTicks: false },
        border: { display: true, color: "#e5e5e5", width: 1.2 },
        ticks: { padding: 8, color: "#444", font: { family: FONT, size: 18 }, callback: v => fmt(v) }
      }
    }
  },
  plugins: [decorations]
});
</script>
</body></html>
